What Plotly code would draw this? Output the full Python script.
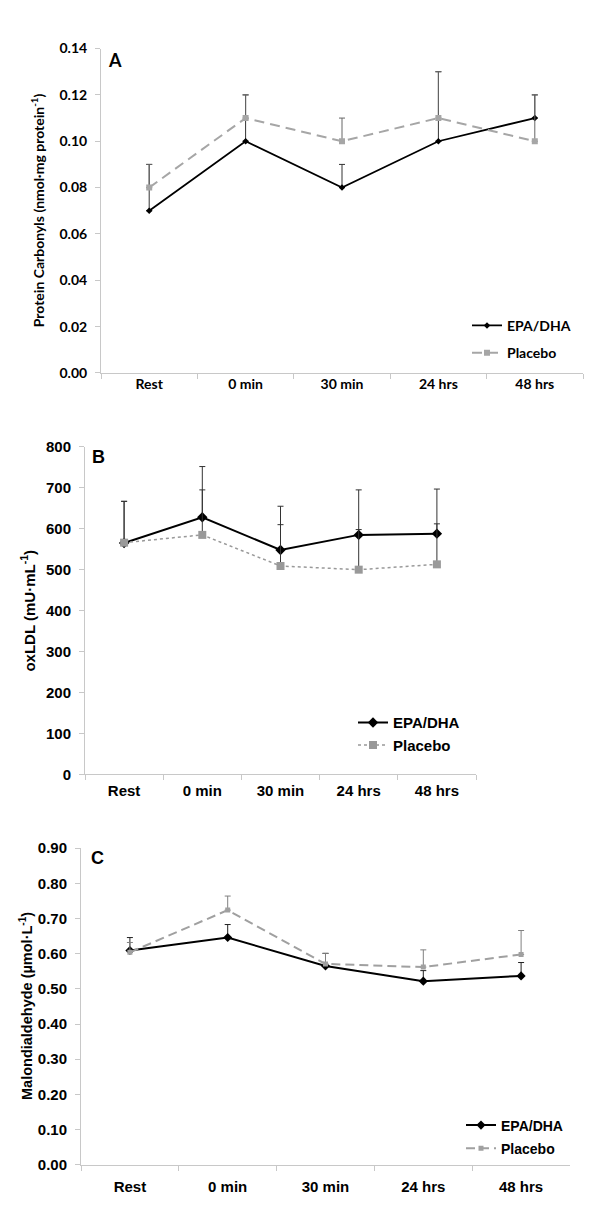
import plotly.graph_objects as go

W, H = 600, 1217

categories = ["Rest", "0 min", "30 min", "24 hrs", "48 hrs"]

# Panel A: Protein carbonyls
a_epa = [0.07, 0.10, 0.08, 0.10, 0.11]
a_epa_err = [0.02, 0.02, 0.01, 0.03, 0.01]
a_pla = [0.08, 0.11, 0.10, 0.11, 0.10]
a_pla_err = [0.01, 0.01, 0.01, 0.02, 0.02]
a_ticks = [0.00, 0.02, 0.04, 0.06, 0.08, 0.10, 0.12, 0.14]

# Panel B: oxLDL
b_epa = [565, 628, 548, 585, 588]
b_epa_err = [102, 124, 107, 110, 109]
b_pla = [566, 585, 509, 500, 513]
b_pla_err = [101, 110, 101, 98, 99]
b_ticks = [0, 100, 200, 300, 400, 500, 600, 700, 800]

# Panel C: Malondialdehyde
c_epa = [0.609, 0.646, 0.565, 0.522, 0.537]
c_epa_err = [0.037, 0.037, 0.036, 0.030, 0.038]
c_pla = [0.604, 0.724, 0.571, 0.562, 0.598]
c_pla_err = [0.028, 0.040, 0.030, 0.049, 0.068]
c_ticks = [0.0, 0.1, 0.2, 0.3, 0.4, 0.5, 0.6, 0.7, 0.8, 0.9]


def px_x(p):
    return p / W


def px_y(p):
    return 1 - p / H


FONT_A = "Lato"
FONT_BC = "Liberation Sans"
AXC = "#c8c8c8"

fig = go.Figure()

# ---------- Panel A ----------
fig.add_trace(go.Scatter(
    x=categories, y=a_epa, name="EPA/DHA", mode="lines+markers",
    line=dict(color="black", width=1.8),
    marker=dict(symbol="diamond", size=5, color="black"),
    error_y=dict(type="data", symmetric=False, array=a_epa_err,
                 arrayminus=[0] * 5, color="#333333", thickness=1, width=3),
    xaxis="x", yaxis="y", legend="legend", legendgroup="a1"))
fig.add_trace(go.Scatter(
    x=categories, y=a_pla, name="Placebo", mode="lines+markers",
    line=dict(color="#a6a6a6", width=2, dash="10px,6px"),
    marker=dict(symbol="square", size=6, color="#a6a6a6"),
    error_y=dict(type="data", symmetric=False, array=a_pla_err,
                 arrayminus=[0] * 5, color="#666666", thickness=1, width=3),
    xaxis="x", yaxis="y", legend="legend", legendgroup="a2"))

# ---------- Panel B ----------
fig.add_trace(go.Scatter(
    x=categories, y=b_epa, name="EPA/DHA", mode="lines+markers",
    line=dict(color="black", width=2),
    marker=dict(symbol="diamond", size=8, color="black"),
    error_y=dict(type="data", symmetric=False, array=b_epa_err,
                 arrayminus=[0] * 5, color="#333333", thickness=1, width=3),
    xaxis="x2", yaxis="y2", legend="legend2", legendgroup="b1"))
fig.add_trace(go.Scatter(
    x=categories, y=b_pla, name="Placebo", mode="lines+markers",
    line=dict(color="#999999", width=1.5, dash="3px,3px"),
    marker=dict(symbol="square", size=8, color="#999999"),
    error_y=dict(type="data", symmetric=False, array=b_pla_err,
                 arrayminus=[0] * 5, color="#333333", thickness=1, width=3),
    xaxis="x2", yaxis="y2", legend="legend2", legendgroup="b2"))

# ---------- Panel C ----------
fig.add_trace(go.Scatter(
    x=categories, y=c_epa, name="EPA/DHA", mode="lines+markers",
    line=dict(color="black", width=2),
    marker=dict(symbol="diamond", size=7, color="black"),
    error_y=dict(type="data", symmetric=False, array=c_epa_err,
                 arrayminus=[0] * 5, color="#222222", thickness=1, width=3),
    xaxis="x3", yaxis="y3", legend="legend3", legendgroup="c1"))
fig.add_trace(go.Scatter(
    x=categories, y=c_pla, name="Placebo", mode="lines+markers",
    line=dict(color="#a0a0a0", width=2, dash="9px,5px"),
    marker=dict(symbol="square", size=5, color="#a0a0a0"),
    error_y=dict(type="data", symmetric=False, array=c_pla_err,
                 arrayminus=[0] * 5, color="#808080", thickness=1, width=3),
    xaxis="x3", yaxis="y3", legend="legend3", legendgroup="c2"))


def xaxis_cfg(x0, x1, font, size, standoff):
    return dict(domain=[px_x(x0), px_x(x1)], type="category",
                categoryorder="array", categoryarray=categories,
                range=[-0.5, 4.5], showline=True, linecolor=AXC, linewidth=1,
                ticks="outside", tickson="boundaries", ticklen=5, tickcolor=AXC,
                showgrid=False, zeroline=False, fixedrange=True,
                ticklabelstandoff=standoff,
                tickfont=dict(family=font, size=size, color="black", weight="bold"))


def yaxis_cfg(anchor, y_top, y_bot, rng, ticks, fmt, font, size, standoff):
    return dict(domain=[px_y(y_bot), px_y(y_top)], range=rng, anchor=anchor,
                tickmode="array", tickvals=ticks, tickformat=fmt,
                showline=True, linecolor=AXC, linewidth=1,
                ticks="outside", ticklen=5, tickcolor=AXC,
                showgrid=False, zeroline=False, fixedrange=True,
                ticklabelstandoff=standoff,
                tickfont=dict(family=font, size=size, color="black", weight="bold"))


fig.update_layout(
    width=W, height=H, margin=dict(l=0, r=0, t=0, b=0),
    paper_bgcolor="white", plot_bgcolor="white",
    xaxis=dict(xaxis_cfg(93, 575, FONT_A, 14, -2), anchor="y"),
    yaxis=yaxis_cfg("x", 32, 361, [0, 0.14], a_ticks, ".2f", FONT_A, 14, 5),
    xaxis2=dict(xaxis_cfg(77, 468, FONT_BC, 15, 3), anchor="y2"),
    yaxis2=yaxis_cfg("x2", 436, 768, [0, 800], b_ticks, "d", FONT_BC, 15, 5),
    xaxis3=dict(xaxis_cfg(73, 562, FONT_BC, 15, 8), anchor="y3"),
    yaxis3=yaxis_cfg("x3", 843, 1164, [0, 0.9], c_ticks, ".2f", FONT_BC, 15, 5),
    legend=dict(x=px_x(459), y=px_y(297), xanchor="left", yanchor="top",
                bgcolor="rgba(0,0,0,0)", tracegroupgap=6, itemwidth=30,
                font=dict(family=FONT_A, size=14, color="black", weight="bold")),
    legend2=dict(x=px_x(345), y=px_y(699), xanchor="left", yanchor="top",
                 bgcolor="rgba(0,0,0,0)", tracegroupgap=0, itemwidth=30,
                 font=dict(family=FONT_BC, size=15, color="black", weight="bold")),
    legend3=dict(x=px_x(453), y=px_y(1108), xanchor="left", yanchor="top",
                 bgcolor="rgba(0,0,0,0)", tracegroupgap=2, itemwidth=30,
                 font=dict(family=FONT_BC, size=14, color="black", weight="bold")),
    showlegend=True,
)

annotations = [
    dict(text="A", x=px_x(107), y=px_y(44), font=dict(family=FONT_A, size=18, weight="bold")),
    dict(text="B", x=px_x(90), y=px_y(446), font=dict(family=FONT_BC, size=18, weight="bold")),
    dict(text="C", x=px_x(89), y=px_y(853), font=dict(family=FONT_BC, size=18, weight="bold")),
    dict(text="Protein Carbonyls (nmol·mg protein<sup>-1</sup>)", x=px_x(29), y=px_y(196),
         textangle=-90, font=dict(family=FONT_A, size=14, weight="bold")),
    dict(text="oxLDL (mU·mL<sup>-1</sup>)", x=px_x(20), y=px_y(602),
         textangle=-90, font=dict(family=FONT_BC, size=15, weight="bold")),
    dict(text="Malondialdehyde (µmol·L<sup>-1</sup>)", x=px_x(18), y=px_y(1003),
         textangle=-90, font=dict(family=FONT_BC, size=14.5, weight="bold")),
]
for a in annotations:
    a.update(xref="paper", yref="paper", showarrow=False, xanchor="center", yanchor="middle")
    a["font"]["color"] = "black"
fig.update_layout(annotations=annotations)

fig.write_html("out.html")
